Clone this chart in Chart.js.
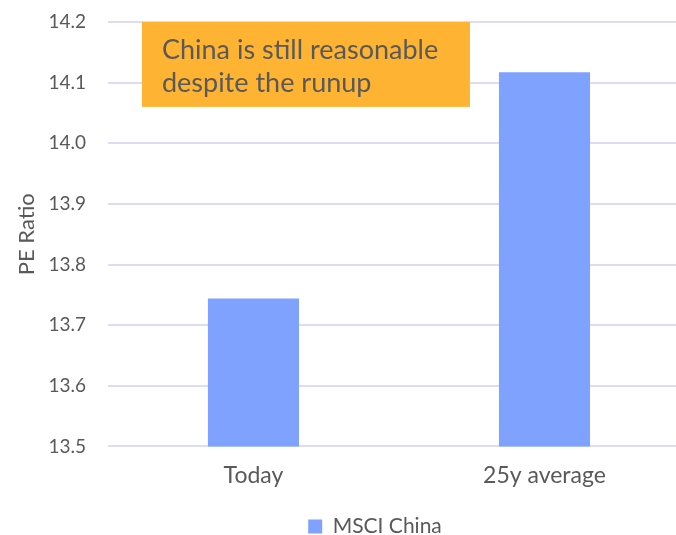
<!DOCTYPE html>
<html>
<head>
<meta charset="utf-8">
<script src="https://cdn.jsdelivr.net/npm/chart.js@4/dist/chart.umd.min.js"></script>
<style>
  html, body { margin: 0; padding: 0; overflow: hidden; background: #fff; }
  #wrap { width: 690px; height: 535px; }
</style>
</head>
<body>
<div id="wrap"><canvas id="pe-chart"></canvas></div>
<script>
// chart data
const categories = ['Today', '25y average'];
const peValues = [13.744, 14.117];
const seriesName = 'MSCI China';
const yMin = 13.5;
const yMax = 14.2;
const noteLines = ['China is still reasonable', 'despite the runup'];

const textColor = '#595959';
const fontFamily = 'Lato, "Open Sans", sans-serif';

// orange callout box, anchored to the plot area
const notePlugin = {
  id: 'note',
  afterLayout(chart) {
    // legend sits a bit right of the canvas centre in the original
    chart.legend.left += 25;
    chart.legend.right += 25;
  },
  afterDatasetsDraw(chart) {
    const { ctx, chartArea, scales } = chart;
    const left = chartArea.left + 34;
    const right = chartArea.left + 362;
    const top = scales.y.getPixelForValue(14.2);
    const bottom = scales.y.getPixelForValue(14.06);
    ctx.save();
    ctx.fillStyle = '#FFB332';
    ctx.fillRect(left, top, right - left, bottom - top);
    ctx.fillStyle = textColor;
    ctx.font = '27px ' + fontFamily;
    ctx.textBaseline = 'alphabetic';
    ctx.fillText(noteLines[0], left + 20, top + 37);
    ctx.fillText(noteLines[1], left + 20, top + 70);
    ctx.restore();
  }
};

const ctx = document.getElementById('pe-chart').getContext('2d');
new Chart(ctx, {
  type: 'bar',
  data: {
    labels: categories,
    datasets: [{
      label: seriesName,
      data: peValues,
      backgroundColor: '#7FA1FF',
      barPercentage: 0.313,
      categoryPercentage: 1
    }]
  },
  options: {
    responsive: true,
    maintainAspectRatio: false,
    animation: false,
    layout: { padding: { top: 22, left: 10, right: 0, bottom: -12 } },
    plugins: {
      legend: {
        position: 'bottom',
        labels: {
          color: textColor,
          font: { family: fontFamily, size: 21 },
          boxWidth: 14,
          boxHeight: 14,
          padding: 20
        }
      },
      tooltip: { enabled: false }
    },
    scales: {
      x: {
        grid: { display: false },
        border: { display: false },
        ticks: { color: textColor, font: { family: fontFamily, size: 23 }, padding: 7 }
      },
      y: {
        min: yMin,
        max: yMax,
        ticks: {
          stepSize: 0.1,
          color: textColor,
          font: { family: fontFamily, size: 19 },
          padding: 0,
          callback: v => v.toFixed(1)
        },
        grid: { color: '#DCDDF5', lineWidth: 2, drawTicks: true, tickLength: 22, tickColor: 'rgba(0,0,0,0)' },
        border: { display: false },
        title: {
          display: true,
          text: 'PE Ratio',
          color: textColor,
          font: { family: fontFamily, size: 22 },
          padding: { top: 4, bottom: 8 }
        }
      }
    }
  },
  plugins: [notePlugin]
});
</script>
</body>
</html>
